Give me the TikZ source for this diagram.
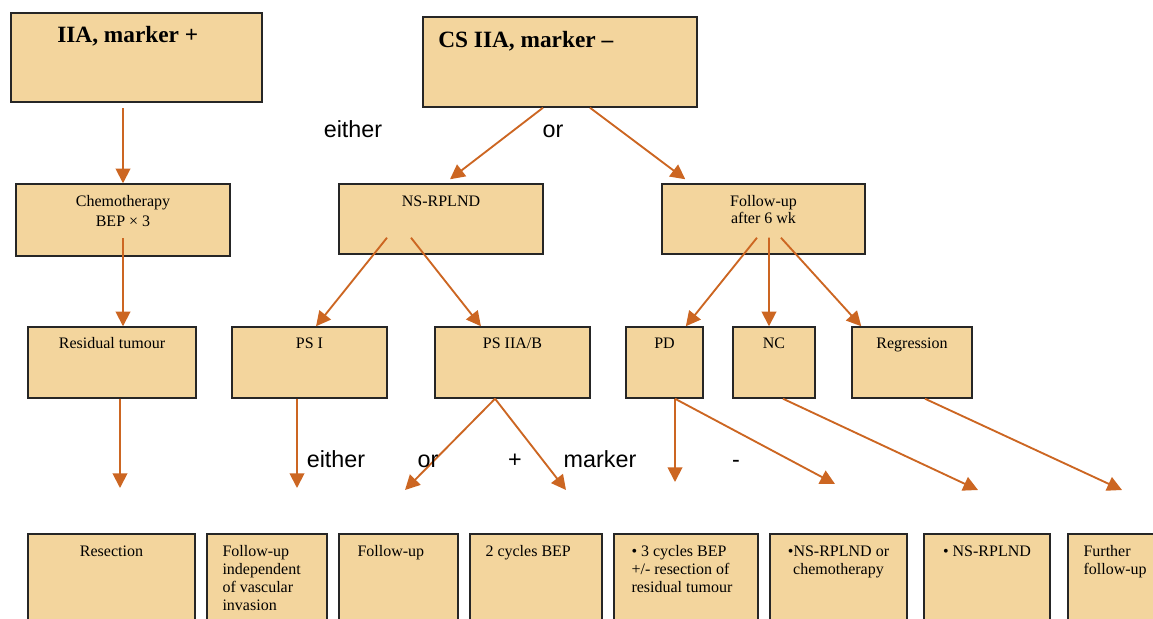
\documentclass[tikz,border=0pt]{standalone}
\usepackage{fontspec}
\setmainfont{Liberation Serif}
\setsansfont{Liberation Sans}
\usetikzlibrary{positioning,fit,arrows.meta}

\definecolor{boxfill}{RGB}{243,213,157}
\definecolor{arrcol}{RGB}{204,102,34}

\tikzset{
	box/.style={draw=black!85, line width=1.1pt, fill=boxfill, inner sep=0pt},
	boxtxt/.style={inner sep=0pt, font=\fontsize{12}{13.5}\selectfont},
	title/.style={inner sep=0pt, anchor=base west, font=\fontsize{17.5}{20}\selectfont\bfseries},
	word/.style={inner sep=0pt, anchor=base, font=\sffamily\fontsize{17.5}{20}\selectfont},
	arr/.style={draw=arrcol, line width=1.4pt, -{Triangle[length=11pt,width=11pt]}}
}

\begin{document}
\begin{tikzpicture}[x=0.75pt, y=-0.75pt]
	\useasboundingbox (0,0) rectangle (1153,618);

	% top row
	\node[box, fit={(11,13) (262,102)}] (iia) {};
	\node[box, fit={(423,17) (697,107)}] (cs) {};
	\node[title] (iia-t) at (57,42) {IIA, marker +};
	\node[title] (cs-t) at (438,47) {CS IIA, marker –};

	% second row
	\node[box, fit={(16,184) (230,256)}] (chemo) {};
	\node[box, fit={(339,184) (543,254)}] (nsr) {};
	\node[box, fit={(662,184) (865,254)}] (fu) {};
	\node[boxtxt, align=center, font=\fontsize{12}{15}\selectfont, below=9pt of chemo.north] (chemo-t) {Chemotherapy\\BEP × 3};
	\node[boxtxt, below=9pt of nsr.north] (nsr-t) {NS-RPLND};
	\node[boxtxt, align=center, font=\fontsize{12}{12.75}\selectfont, below=9pt of fu.north] (fu-t) {Follow-up\\after 6 wk};

	% third row
	\node[box, fit={(28,327) (196,398)}] (resid) {};
	\node[box, fit={(232,327) (387,398)}] (psi) {};
	\node[box, fit={(435,327) (590,398)}] (ps2) {};
	\node[box, fit={(626,327) (703,398)}] (pd) {};
	\node[box, fit={(733,327) (815,398)}] (nc) {};
	\node[box, fit={(852,327) (972,398)}] (regr) {};
	\node[boxtxt, below=8.25pt of resid.north] (resid-t) {Residual tumour};
	\node[boxtxt, below=8.25pt of psi.north] (psi-t) {PS I};
	\node[boxtxt, below=8.25pt of ps2.north] (ps2-t) {PS IIA/B};
	\node[boxtxt, below=8.25pt of pd.north] (pd-t) {PD};
	\node[boxtxt, below=8.25pt of nc.north] (nc-t) {NC};
	\node[boxtxt, below=8.25pt of regr.north] (regr-t) {Regression};

	% bottom row
	\node[box, fit={(28,534) (195,630)}] (b1) {};
	\node[box, fit={(207,534) (327,630)}] (b2) {};
	\node[box, fit={(339,534) (458,630)}] (b3) {};
	\node[box, fit={(470,534) (602,630)}] (b4) {};
	\node[box, fit={(614,534) (758,630)}] (b5) {};
	\node[box, fit={(770,534) (907,630)}] (b6) {};
	\node[box, fit={(924,534) (1050,630)}] (b7) {};
	\node[box, fit={(1068,534) (1170,630)}] (b8) {};
	\node[boxtxt, below=9pt of b1.north] (b1-t) {Resection};
	\node[boxtxt, align=left, below right=9pt and 12pt of b2.north west] (b2-t) {Follow-up\\independent\\of vascular\\invasion};
	\node[boxtxt, below right=9pt and 14.25pt of b3.north west] (b3-t) {Follow-up};
	\node[boxtxt, below right=9pt and 12pt of b4.north west] (b4-t) {2 cycles BEP};
	\node[boxtxt, align=left, below right=9pt and 13.5pt of b5.north west] (b5-t) {\textbullet\ 3 cycles BEP\\+/- resection of\\residual tumour};
	\node[boxtxt, align=center, below=9pt of b6.north] (b6-t) {\textbullet NS-RPLND or\\chemotherapy};
	\node[boxtxt, below=9pt of b7.north] (b7-t) {\textbullet\ NS-RPLND};
	\node[boxtxt, align=left, below right=9pt and 12pt of b8.north west] (b8-t) {Further\\follow-up};

	% free arrow ends
	\coordinate (e1) at (120,488);
	\coordinate (e2) at (297,488);
	\coordinate (e3) at (405,490);
	\coordinate (e4) at (566,490);
	\coordinate (e5) at (675,482);
	\coordinate (e6) at (835,484);
	\coordinate (e7) at (978,490);
	\coordinate (e8) at (1122,490);

	% arrows
	\draw[arr] ([yshift=-4pt]iia.south -| chemo.north) -- (chemo.north);
	\draw[arr] ([yshift=14pt]chemo.south) -- (chemo.south |- resid.north);
	\draw[arr] ([xshift=-12.75pt]cs.south) -- ([xshift=6.75pt, yshift=3pt]nsr.north);
	\draw[arr] ([xshift=22.5pt]cs.south) -- ([xshift=18pt, yshift=3pt]fu.north west);
	\draw[arr] ([xshift=-40.5pt, yshift=12.75pt]nsr.south) -- ([xshift=4.9pt]psi.north);
	\draw[arr] ([xshift=-22.5pt, yshift=12.75pt]nsr.south) -- ([xshift=35pt]ps2.north west);
	\draw[arr] ([xshift=-4.9pt, yshift=12.75pt]fu.south) -- ([xshift=16pt]pd.north);
	\draw[arr] ([xshift=4.1pt, yshift=12.75pt]fu.south) -- ([xshift=-3.75pt]nc.north);
	\draw[arr] ([xshift=13.1pt, yshift=12.75pt]fu.south) -- ([xshift=7.5pt]regr.north west);
	\draw[arr] (e1 |- resid.south) -- (e1);
	\draw[arr] (e2 |- psi.south) -- (e2);
	\draw[arr] ([xshift=-13.1pt]ps2.south) -- (e3);
	\draw[arr] ([xshift=-13.1pt]ps2.south) -- (e4);
	\draw[arr] (e5 |- pd.south) -- (e5);
	\draw[arr] (e5 |- pd.south) -- (e6);
	\draw[arr] ([xshift=6.75pt]nc.south) -- (e7);
	\draw[arr] ([xshift=9.75pt]regr.south) -- (e8);

	% words between the rows
	\node[word] (either1) at (353,137) {either};
	\node[word] (or1) at (553,137) {or};
	\node[word] (either2) at (336,467) {either};
	\node[word] (or2) at (428,467) {or};
	\node[word] (plus) at (515,467) {+};
	\node[word] (marker) at (600,467) {marker};
	\node[word] (minus) at (736,467) {-};
\end{tikzpicture}
\end{document}
